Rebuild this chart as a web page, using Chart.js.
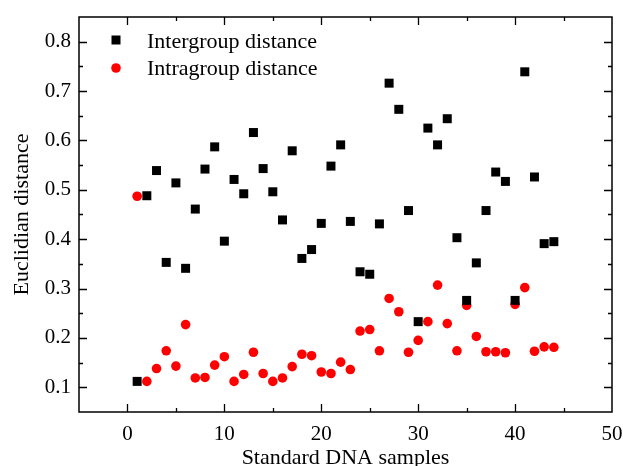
<!DOCTYPE html>
<html>
<head>
<meta charset="utf-8">
<script src="https://cdn.jsdelivr.net/npm/chart.js@4/dist/chart.umd.min.js"></script>
<style>
    body { margin: 0; background: #fff; }
    #wrap { width: 623px; height: 466px; }
</style>
</head>
<body>
<div id="wrap"><canvas id="chart"></canvas></div>
<script>
const samples = [1, 2, 3, 4, 5, 6, 7, 8, 9, 10, 11, 12, 13, 14, 15, 16, 17, 18, 19, 20, 21, 22,
    23, 24, 25, 26, 27, 28, 29, 30, 31, 32, 33, 34, 35, 36, 37, 38, 39, 40, 41, 42, 43, 44]

const intergroup = [0.112, 0.488, 0.539, 0.353, 0.514, 0.341, 0.461, 0.542, 0.587, 0.396, 0.521,
    0.492, 0.616, 0.543, 0.496, 0.439, 0.579, 0.361, 0.379, 0.432, 0.548, 0.591,
    0.436, 0.334, 0.329, 0.431, 0.716, 0.663, 0.458, 0.233, 0.625, 0.591, 0.644,
    0.403, 0.276, 0.352, 0.458, 0.536, 0.517, 0.276, 0.739, 0.526, 0.391, 0.395]

const intragroup = [0.487, 0.112, 0.138, 0.174, 0.143, 0.227, 0.119, 0.120, 0.145, 0.162, 0.112,
    0.126, 0.171, 0.128, 0.112, 0.119, 0.142, 0.167, 0.164, 0.131, 0.128, 0.151,
    0.136, 0.214, 0.217, 0.174, 0.280, 0.253, 0.171, 0.195, 0.233, 0.307, 0.229,
    0.174, 0.266, 0.203, 0.172, 0.172, 0.170, 0.268, 0.302, 0.173, 0.182, 0.181]

const xTicks = [0, 10, 20, 30, 40, 50]
const yTicks = [0.1, 0.2, 0.3, 0.4, 0.5, 0.6, 0.7, 0.8]

const serif = "'Liberation Serif', 'Times New Roman', serif"

function toPoints(ys) {
    return samples.map((x, i) => ({ x: x, y: ys[i] }))
}

// frame with inward major/minor ticks on all four sides, and the legend inside the plot
const framePlugin = {
    id: 'frame',
    afterDraw(chart) {
        const { ctx, chartArea: a, scales } = chart
        const xs = scales.x
        const ys = scales.y
        ctx.save()
        ctx.strokeStyle = '#000'
        ctx.lineWidth = 1.5
        ctx.strokeRect(a.left, a.top, a.right - a.left, a.bottom - a.top)

        ctx.lineWidth = 1.3
        ctx.beginPath()
        for (let v = -5; v <= 50; v += 5) {
            if (v === -5 || v === 50) continue
            const len = v % 10 === 0 ? 8 : 4
            const px = Math.round(xs.getPixelForValue(v)) + 0.5
            ctx.moveTo(px, a.bottom); ctx.lineTo(px, a.bottom - len)
            ctx.moveTo(px, a.top); ctx.lineTo(px, a.top + len)
        }
        for (let k = 2; k <= 16; k++) {
            const v = k * 0.05
            const len = k % 2 === 0 ? 8 : 4
            const py = Math.round(ys.getPixelForValue(v)) + 0.5
            ctx.moveTo(a.left, py); ctx.lineTo(a.left + len, py)
            ctx.moveTo(a.right, py); ctx.lineTo(a.right - len, py)
        }
        ctx.stroke()

        // legend
        const sets = chart.data.datasets
        ctx.font = `22px ${serif}`
        ctx.textBaseline = 'middle'
        ctx.fillStyle = '#000'
        ctx.fillRect(111.5, 35.5, 9, 9)
        ctx.fillText(sets[0].label, 147, 42)
        ctx.fillStyle = sets[1].backgroundColor
        ctx.beginPath()
        ctx.arc(116, 68, 4.8, 0, Math.PI * 2)
        ctx.fill()
        ctx.fillStyle = '#000'
        ctx.fillText(sets[1].label, 147, 69)
        ctx.restore()
    }
}

new Chart('chart', {
    type: 'scatter',
    data: {
        datasets: [{
            label: 'Intergroup distance',
            data: toPoints(intergroup),
            pointStyle: 'rect',
            pointRadius: 6.36,
            pointHoverRadius: 6.36,
            backgroundColor: '#000',
            borderColor: '#000',
            borderWidth: 0,
        }, {
            label: 'Intragroup distance',
            data: toPoints(intragroup),
            pointStyle: 'circle',
            pointRadius: 4.8,
            pointHoverRadius: 4.8,
            backgroundColor: '#ff0000',
            borderColor: '#ff0000',
            borderWidth: 0,
        }]
    },
    options: {
        responsive: true,
        maintainAspectRatio: false,
        animation: false,
        layout: {
            padding: { top: 17, right: 11, left: 0, bottom: 0 },
        },
        plugins: {
            legend: { display: false },
            tooltip: { enabled: false },
        },
        scales: {
            x: {
                type: 'linear',
                min: -5,
                max: 50,
                afterFit: s => {
                    s.height = 54
                    s.paddingLeft = 0
                    s.paddingRight = 0
                },
                afterBuildTicks: s => { s.ticks = xTicks.map(v => ({ value: v })) },
                grid: { display: false, drawTicks: false },
                border: { display: false },
                ticks: {
                    color: '#000',
                    padding: 10,
                    maxRotation: 0,
                    font: { family: serif, size: 21 },
                },
                title: {
                    display: true,
                    text: 'Standard DNA samples',
                    color: '#000',
                    font: { family: serif, size: 22, lineHeight: 1.2 },
                    padding: { top: 0, bottom: -5 },
                },
            },
            y: {
                type: 'linear',
                min: 0.05,
                max: 0.85,
                afterFit: s => {
                    s.width = 79
                    s.paddingTop = 0
                    s.paddingBottom = 0
                },
                afterBuildTicks: s => { s.ticks = yTicks.map(v => ({ value: v })) },
                grid: { display: false, drawTicks: false },
                border: { display: false },
                ticks: {
                    color: '#000',
                    padding: 8,
                    font: { family: serif, size: 21 },
                    callback: v => v.toFixed(1),
                },
                title: {
                    display: true,
                    text: 'Euclidian distance',
                    color: '#000',
                    font: { family: serif, size: 22, lineHeight: 1.2 },
                    padding: { top: 9, bottom: 0 },
                },
            },
        },
    },
    plugins: [framePlugin],
})
</script>
</body>
</html>
